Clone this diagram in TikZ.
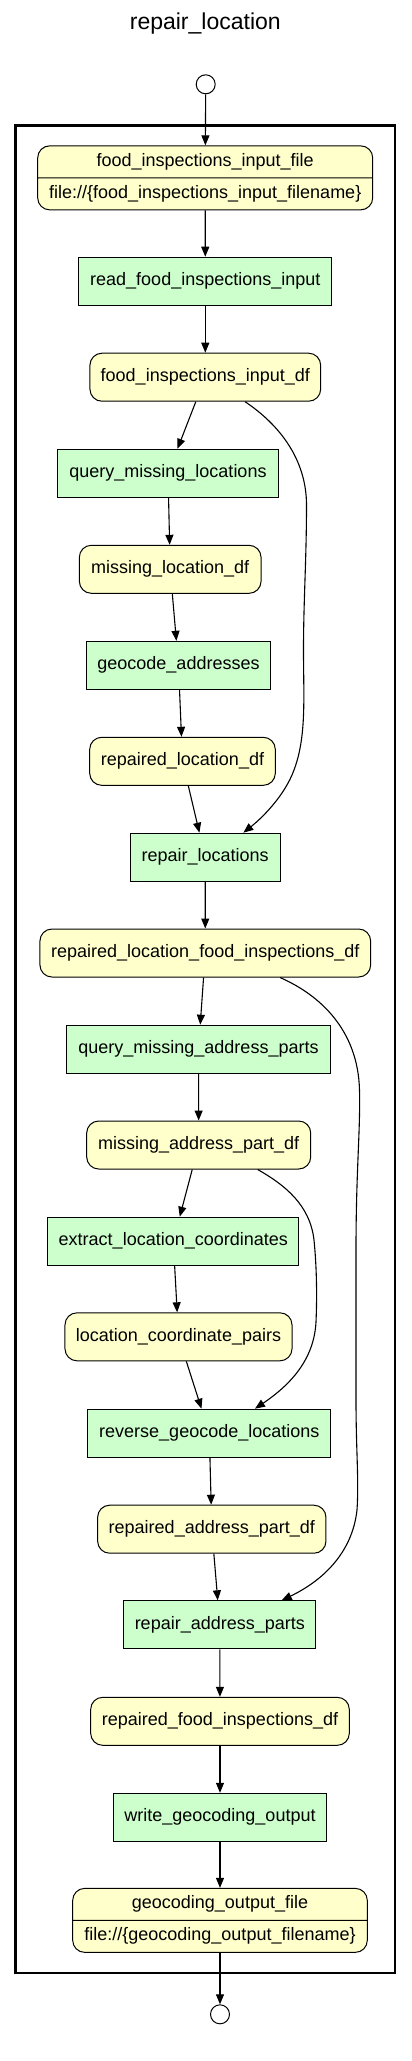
\documentclass[tikz,border=0pt]{standalone}
\usepackage{fontspec}
\setmainfont{Liberation Sans}
\usetikzlibrary{arrows.meta,shapes.multipart}
\definecolor{datafill}{HTML}{FFFFCC}
\definecolor{procfill}{HTML}{CCFFCC}
\newcommand{\nfont}{\fontsize{18bp}{22bp}\selectfont}
\begin{document}
\begin{tikzpicture}[x=1bp,y=-1bp,
  datanode/.style={draw=black, fill=datafill, rounded corners=12bp, line width=1bp,
    minimum height=48bp, inner sep=0pt, font=\nfont},
  procnode/.style={draw=black, fill=procfill, line width=1bp,
    minimum height=48bp, inner sep=0pt, font=\nfont},
  filenode/.style={rectangle split, rectangle split parts=2, draw=black, fill=datafill,
    rounded corners=12bp, line width=1bp, inner xsep=0pt, inner ysep=4.5bp, font=\nfont},
  terminal/.style={circle, draw=black, fill=white, line width=1bp, minimum size=19bp, inner sep=0pt},
  flow/.style={-{Triangle[length=10bp,width=8bp]}, line width=1.1bp},
  clusterbox/.style={draw=black, line width=2.4bp}
]
\useasboundingbox (0,0) rectangle (411,2061);

\node[anchor=base, font=\fontsize{23bp}{27bp}\selectfont] (title) at (205.3,29.5) {repair\_location};

\draw[clusterbox] (15.3,125.3) rectangle (395,1972.7);

\node[terminal] (start) at (205.7,84.3) {};
\node[filenode, minimum width=335bp] (fiif) at (205.2,177.85)
  {\strut food\_inspections\_input\_file\nodepart{two}\strut file://\{food\_inspections\_input\_filename\}};
\node[procnode, minimum width=252.7bp] (rfi) at (205.3,281.2) {read\_food\_inspections\_input};
\node[datanode, minimum width=230.7bp] (fiid) at (205.3,377.2) {food\_inspections\_input\_df};
\node[procnode, minimum width=220.6bp] (qml) at (168,473.3) {query\_missing\_locations};
\node[datanode, minimum width=181.7bp] (mld) at (170.2,569.3) {missing\_location\_df};
\node[procnode, minimum width=184.4bp] (geo) at (178.5,665.3) {geocode\_addresses};
\node[datanode, minimum width=185.6bp] (rld) at (182.5,761.3) {repaired\_location\_df};
\node[procnode, minimum width=149.7bp] (rl) at (205.2,857.2) {repair\_locations};
\node[datanode, minimum width=330.7bp] (rlfid) at (205.3,953) {repaired\_location\_food\_inspections\_df};
\node[procnode, minimum width=263bp] (qmap) at (198.5,1049.2) {query\_missing\_address\_parts};
\node[datanode, minimum width=224bp] (mapd) at (198.7,1145) {missing\_address\_part\_df};
\node[procnode, minimum width=251.3bp] (elc) at (173.3,1241.2) {extract\_location\_coordinates};
\node[datanode, minimum width=227bp] (lcp) at (178.5,1336.8) {location\_coordinate\_pairs};
\node[procnode, minimum width=243.3bp] (rgl) at (209.3,1433.2) {reverse\_geocode\_locations};
\node[datanode, minimum width=228.3bp] (rapd) at (211.8,1529.2) {repaired\_address\_part\_df};
\node[procnode, minimum width=192.3bp] (rap) at (219.8,1624.8) {repair\_address\_parts};
\node[datanode, minimum width=258.6bp] (rfid) at (220,1721.3) {repaired\_food\_inspections\_df};
\node[procnode, minimum width=213.4bp] (wgo) at (220,1817.3) {write\_geocoding\_output};
\node[filenode, minimum width=294.6bp] (gof) at (220,1920.35)
  {\strut geocoding\_output\_file\nodepart{two}\strut file://\{geocoding\_output\_filename\}};
\node[terminal] (end) at (220,2014.3) {};

\draw[flow] (start) -- (fiif);
\draw[flow] (fiif) -- (rfi);
\draw[flow] (rfi) -- (fiid);
\draw[flow] (fiid) -- (qml);
\draw[flow] (qml) -- (mld);
\draw[flow] (mld) -- (geo);
\draw[flow] (geo) -- (rld);
\draw[flow] (rld) -- (rl);
\draw[flow] (rl) -- (rlfid);
\draw[flow] (rlfid) -- (qmap);
\draw[flow] (qmap) -- (mapd);
\draw[flow] (mapd) -- (elc);
\draw[flow] (elc) -- (lcp);
\draw[flow] (lcp) -- (rgl);
\draw[flow] (rgl) -- (rapd);
\draw[flow] (rapd) -- (rap);
\draw[flow] (rap) -- (rfid);
\draw[flow] (rfid) -- (wgo);
\draw[flow] (wgo) -- (gof);
\draw[flow] (gof) -- (end);

\draw[flow] ([xshift=39.7bp]fiid.south) .. controls (280,425) and (306.5,460) .. (306.5,505)
  .. controls (306.5,560) and (303.5,600) .. (303.5,650)
  .. controls (303.5,700) and (307,740) .. (292,775)
  .. controls (282,798) and (262,818) .. ([xshift=38.1bp]rl.north);

\draw[flow] ([xshift=74.7bp]rlfid.south) .. controls (320,995) and (358,1030) .. (359.5,1090)
  .. controls (360.5,1130) and (356,1170) .. (356,1250)
  -- (356,1400)
  .. controls (356,1450) and (359,1480) .. (357,1510)
  .. controls (352,1555) and (320,1582) .. ([xshift=61.9bp]rap.north);

\draw[flow] ([xshift=59bp]mapd.south) .. controls (285,1185) and (310,1205) .. (314,1240)
  .. controls (317,1270) and (317,1300) .. (316,1322)
  .. controls (314,1360) and (290,1385) .. ([xshift=45.7bp]rgl.north);
\end{tikzpicture}
\end{document}
